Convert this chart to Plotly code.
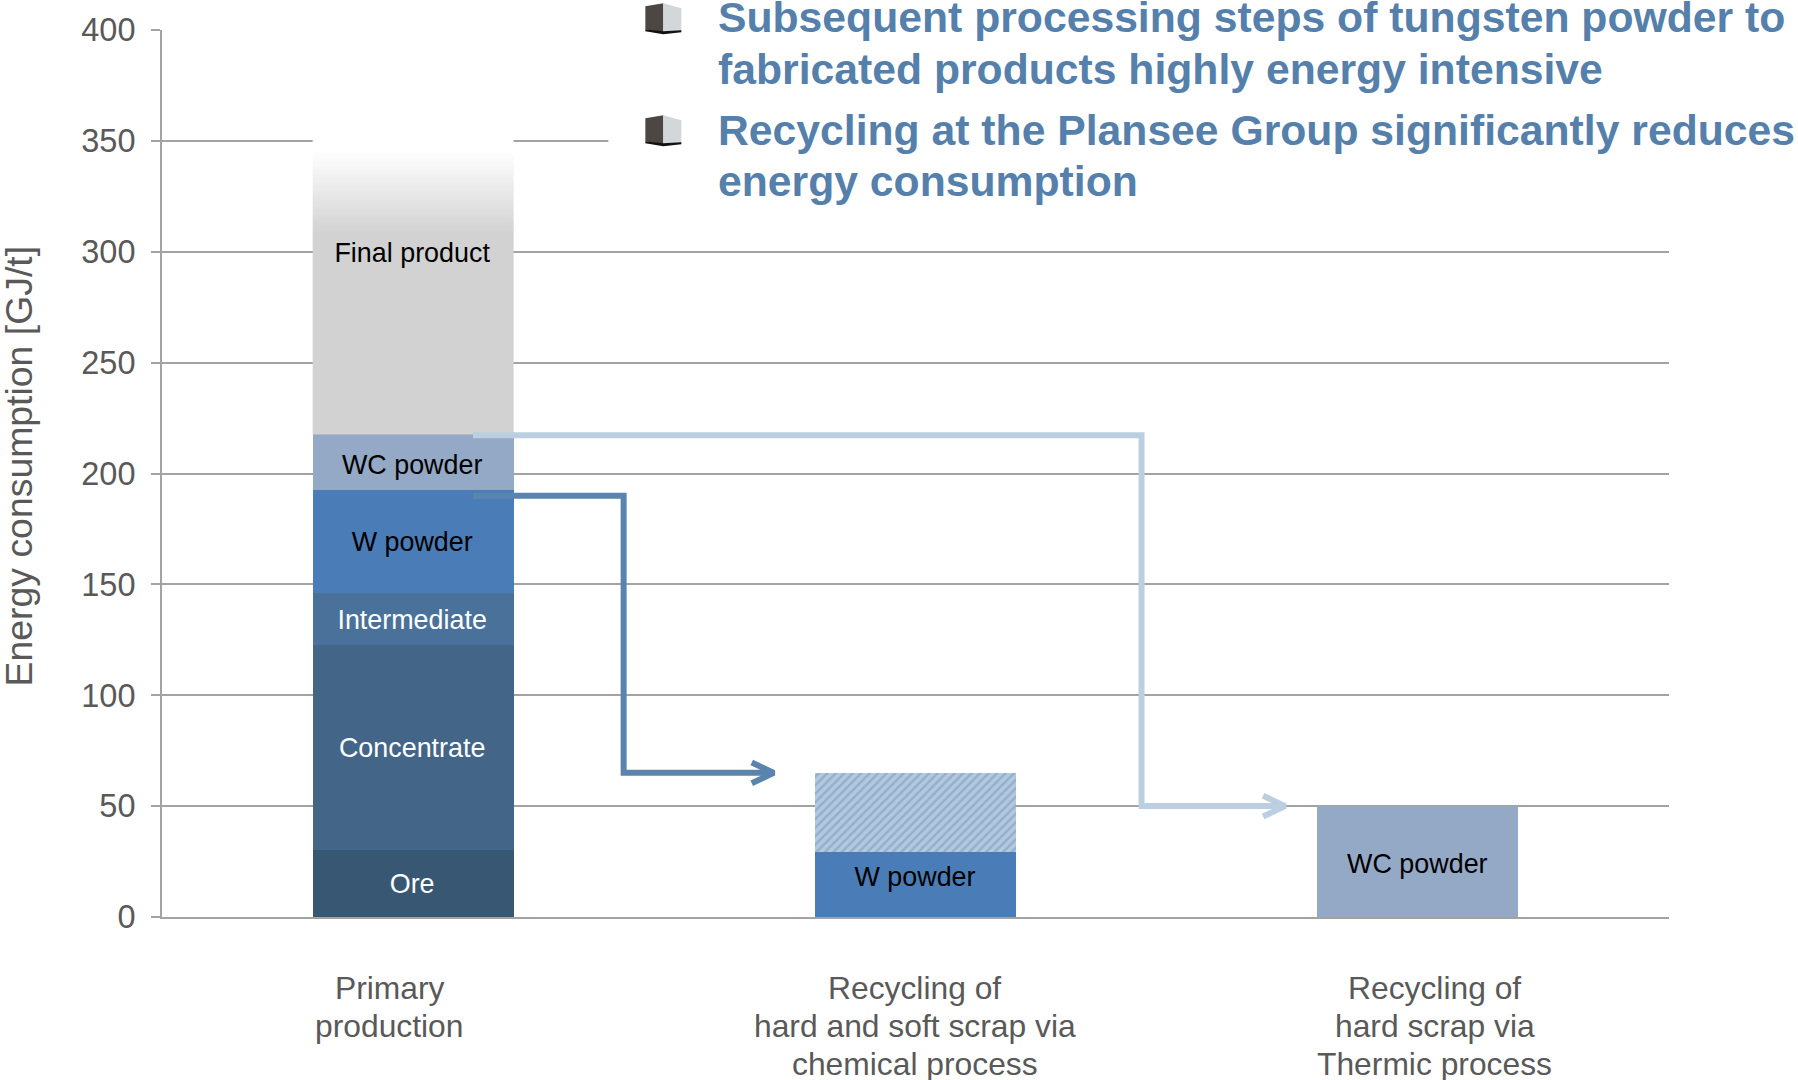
import plotly.graph_objects as go

W, H = 1798, 1080
L, R, T, B = 161.5, 129, 29.7, 162.5

# --- data -------------------------------------------------------------
primary_segments = ["Ore", "Concentrate", "Intermediate", "W powder", "WC powder"]
primary_values = [30, 92.5, 23.5, 46.5, 25.5]
primary_colors = ["#375773", "#426588", "#4a7199", "#4a7db8", "#94a9c5"]
final_bottom = 217.6
final_top = 351
chem_w_powder = 29.3
chem_hatched = 35.7
thermic_wc_powder = 50

label_text = ["Ore", "Concentrate", "Intermediate", "W powder", "WC powder", "Final product", "W powder", "WC powder"]
label_x = [-0.002, -0.002, -0.002, -0.002, -0.002, -0.002, 0.999, 1.999]
label_y = [13.8, 75, 132.8, 168.2, 203, 298.5, 16.8, 23]
label_color = ["white", "white", "white", "black", "black", "black", "black", "black"]

yticks = [0, 50, 100, 150, 200, 250, 300, 350, 400]
category_lines = [
    (-0.047, ["Primary", "production"]),
    (0.998, ["Recycling of", "hard and soft scrap via", "chemical process"]),
    (2.034, ["Recycling of", "hard scrap via", "Thermic process"]),
]
header_lines = [
    "Subsequent processing steps of tungsten powder to",
    "fabricated products highly energy intensive",
    "Recycling at the Plansee Group significantly reduces",
    "energy consumption",
]
header_y_px = [17, 69, 130, 181]

dark_arrow_x = [0.119, 0.419, 0.419, 0.718]
dark_arrow_y = [190, 190, 65, 65]
light_arrow_x = [0.119, 1.45, 1.45, 1.736]
light_arrow_y = [217.3, 217.3, 50, 50]

FONT = "Liberation Sans, Arial, sans-serif"
GREY = "#595959"
LINE = "#a3a3a3"
BAR_W = 0.4

# figure pixels -> paper fractions of the plot area
px = lambda x: (x - L) / (W - L - R)
py = lambda y: 1 - (y - T) / (H - T - B)

fig = go.Figure()

for name, v, c in zip(primary_segments, primary_values, primary_colors):
    fig.add_bar(x=[0], y=[v], width=BAR_W, name=name, marker=dict(color=c, line_width=0))
fig.add_bar(x=[1], y=[chem_w_powder], width=BAR_W, name="W powder", marker=dict(color="#4a7db8", line_width=0))
fig.add_bar(x=[1], y=[chem_hatched], width=BAR_W, name="Recycled",
            marker=dict(color="#b5c8dc", line_width=0,
                        pattern=dict(shape="/", bgcolor="#b5c8dc", fgcolor="#6a97c8", size=6, solidity=0.4)))
fig.add_bar(x=[2], y=[thermic_wc_powder], width=BAR_W, name="WC powder", marker=dict(color="#94a9c5", line_width=0))

# gradient-topped final-product segment
fig.add_scatter(
    x=[-BAR_W / 2, BAR_W / 2, BAR_W / 2, -BAR_W / 2, -BAR_W / 2],
    y=[final_bottom, final_bottom, final_top, final_top, final_bottom],
    mode="lines", fill="toself", line=dict(width=0), name="Final product",
    fillgradient=dict(type="vertical", start=final_bottom, stop=final_top,
                      colorscale=[[0, "#d2d2d2"], [0.68, "#d2d2d2"], [0.96, "#ffffff"], [1, "#ffffff"]]),
)


def arrow(xs, ys, color):
    tx, ty = xs[-1], ys[-1]
    dx, dy = 0.044, 4.7
    fig.add_scatter(
        x=xs + [tx - dx, tx, tx - dx], y=ys + [ty + dy, ty, ty - dy],
        mode="lines", line=dict(color=color, width=6, shape="linear"), hoverinfo="skip",
    )


arrow(dark_arrow_x, dark_arrow_y, "#5a84ae")
arrow(light_arrow_x, light_arrow_y, "#bccfe1")

fig.add_scatter(x=label_x, y=label_y, text=label_text, mode="text",
                textfont=dict(family=FONT, size=26.9, color=label_color), hoverinfo="skip")

annotations = []
for x0, lines in category_lines:
    for i, t in enumerate(lines):
        annotations.append(dict(x=x0, xref="x", y=0, yref="paper", yanchor="middle", xanchor="center",
                                yshift=-(70.5 + 38 * i), text=t, showarrow=False,
                                font=dict(family=FONT, size=31.8, color=GREY)))
for t, yp in zip(header_lines, header_y_px):
    annotations.append(dict(x=px(716), xref="paper", y=py(yp), yref="paper", xanchor="left", yanchor="middle",
                            text=f"<b>{t}</b>", showarrow=False, font=dict(family=FONT, size=42.7, color="#5580ab")))
annotations.append(dict(x=px(18), xref="paper", y=py(466), yref="paper", xanchor="center", yanchor="middle",
                        textangle=-90, text="Energy consumption [GJ/t]", showarrow=False,
                        font=dict(family=FONT, size=37.4, color=GREY)))

shapes = [dict(type="rect", xref="paper", yref="paper", x0=px(608), x1=px(1798), y0=py(210), y1=py(0),
               fillcolor="white", line_width=0, layer="above")]


def poly(points):
    return "M" + "L".join(f"{px(a):.5f},{py(b):.5f}" for a, b in points) + "Z"


for off in (0, 112):
    for pts, col in (
        ([(645, 6), (663, 3), (663, 32), (645, 29)], "#4d4744"),
        ([(663, 3), (681, 8), (681, 31), (663, 32)], "#d3d7d9"),
        ([(645, 29), (663, 31), (681, 30), (681, 32), (663, 34), (645, 31)], "#111111"),
    ):
        shapes.append(dict(type="path", xref="paper", yref="paper", layer="above", line_width=0, fillcolor=col,
                           path=poly([(a, b + off) for a, b in pts])))

fig.update_layout(
    width=W, height=H, barmode="stack", showlegend=False, plot_bgcolor="white", paper_bgcolor="white",
    margin=dict(l=L, r=R, t=T, b=B), annotations=annotations, shapes=shapes,
    font=dict(family=FONT, color=GREY),
)
fig.update_xaxes(range=[-0.5, 2.5], showgrid=False, showticklabels=False, ticks="", zeroline=False,
                 showline=True, linecolor=LINE, linewidth=2)
fig.update_yaxes(range=[0, 400], tickvals=yticks, showgrid=True, gridcolor=LINE, gridwidth=2, zeroline=False,
                 showline=True, linecolor=LINE, linewidth=2, ticks="outside", ticklen=9, tickwidth=2, tickcolor=LINE,
                 tickfont=dict(family=FONT, size=32.5, color=GREY), ticklabelstandoff=9)

fig.write_html("out.html", config=dict(displayModeBar=False), post_script="document.body.style.margin='0';")
